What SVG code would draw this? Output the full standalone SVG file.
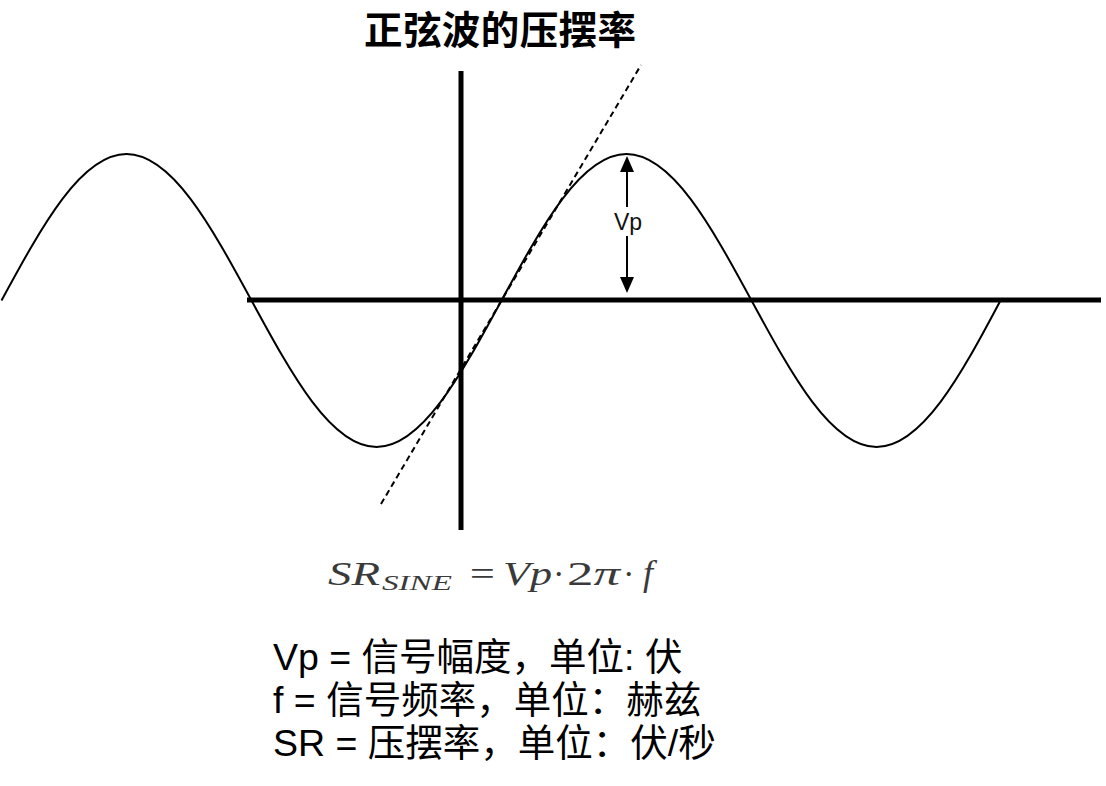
<svg xmlns="http://www.w3.org/2000/svg" width="1106" height="786" viewBox="0 0 1106 786">
<style>
.axis{stroke:#000;stroke-width:5;fill:none}
.wave{stroke:#000;stroke-width:2;fill:none}
.tangent{stroke:#000;stroke-width:2;stroke-dasharray:6 4;fill:none}
.arr{stroke:#000;stroke-width:2;fill:none}
.head{fill:#000}
.title{font-family:"Noto Sans CJK SC","Noto Sans",sans-serif;font-weight:bold;font-size:38.5px;fill:#000}
.lbl{font-family:"Liberation Sans","Noto Sans",sans-serif;font-size:23px;fill:#111}
.math{font-family:"Liberation Serif","DejaVu Serif",serif;font-style:italic;fill:#3a3a3a}
.desc{font-family:"Liberation Sans","Noto Sans CJK SC",sans-serif;font-size:37.5px;fill:#000}
</style>
<rect width="1106" height="786" fill="#fff"/>
<g id="title"><text class="title" x="500" y="44" text-anchor="middle" textLength="272" lengthAdjust="spacing">正弦波的压摆率</text></g>
<g id="axes">
<line class="axis" x1="247" y1="300" x2="1101" y2="300"/>
<line class="axis" x1="461" y1="71" x2="461" y2="530"/>
</g>
<g id="sine-wave">
<path class="wave" d="M 1.5 300.5 C 42.27 225.45 81.26 154 126.5 154 S 210.73 225.45 251.5 300.5 S 331.26 447 376.5 447 S 460.73 375.55 501.5 300.5 S 581.26 154 626.5 154 S 710.73 225.45 751.5 300.5 S 831.26 447 876.5 447 S 960.73 375.55 1000.5 300.5"/>
</g>
<g id="connectors">
<line id="tangent" class="tangent" x1="381" y1="504" x2="641" y2="65"/>
<line class="arr" x1="627" y1="170" x2="627" y2="207"/>
<line class="arr" x1="627" y1="236" x2="627" y2="279"/>
<polygon class="head" points="627,156 620,172 634,172"/>
<polygon class="head" points="627,293 620,277 634,277"/>
</g>
<g id="vp-label"><text class="lbl" x="628" y="230" text-anchor="middle">Vp</text></g>
<g id="formula">
<text class="math" x="328" y="585" font-size="34" textLength="52" lengthAdjust="spacingAndGlyphs">SR</text>
<text class="math" x="382" y="590" font-size="22" textLength="70" lengthAdjust="spacingAndGlyphs">SINE</text>
<text class="math" x="467" y="585" font-size="34" font-style="normal" textLength="30" lengthAdjust="spacingAndGlyphs">=</text>
<text class="math" x="503" y="585" font-size="34" textLength="49" lengthAdjust="spacingAndGlyphs">Vp</text>
<text class="math" x="554" y="585" font-size="34" font-style="normal">·</text>
<text class="math" x="567" y="585" font-size="34" textLength="53" lengthAdjust="spacingAndGlyphs"><tspan font-style="normal">2</tspan>π</text>
<text class="math" x="624" y="585" font-size="34" font-style="normal">·</text>
<text class="math" x="643" y="585" font-size="36">f</text>
</g>
<g id="legend">
<text class="desc" x="273" y="670">Vp = 信号幅度，单位: 伏</text>
<text class="desc" x="273" y="713">f = 信号频率，单位：赫兹</text>
<text class="desc" x="273" y="756">SR = 压摆率，单位：伏/秒</text>
</g>
</svg>
